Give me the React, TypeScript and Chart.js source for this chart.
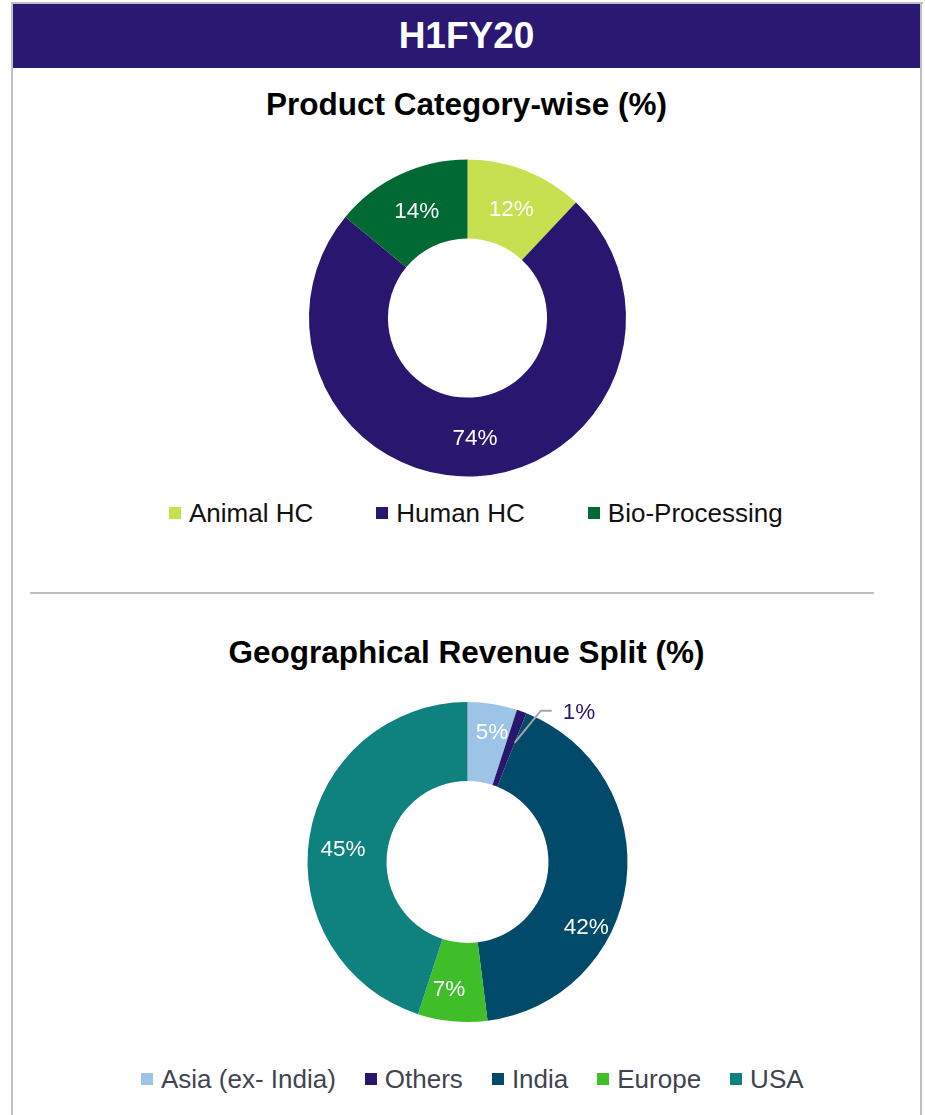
import React, { useEffect, useRef } from "react";
import { Chart, registerables } from "chart.js";

Chart.register(...registerables);

// ---------- data ----------
const productCategories = ["Animal HC", "Human HC", "Bio-Processing"];
const productValues = [12, 74, 14];

const geoCategories = ["Asia (ex- India)", "Others", "India", "Europe", "USA"];
const geoValues = [5, 1, 42, 7, 45];

// ---------- styles ----------
const productColors = ["#c6e04f", "#29176f", "#006934"];
const geoColors = ["#9dc3e6", "#29176f", "#014a69", "#3fbe2a", "#0f817f"];

const FONT = '"Liberation Sans", Arial, Helvetica, sans-serif';

// label placement (fraction of ring thickness, angle shift in degrees, outside flag)
const productLabelFrac = [0.5, 0.5, 0.5];
const productLabelShift = [0, 0, 0];
const productLabelOutside = [false, false, false];

const geoLabelFrac = [0.67, 0.5, 0.68, 0.58, 0.56];
const geoLabelShift = [1.5, 0, 21, 3, -2.5];
const geoLabelOutside = [false, true, false, false, false];

const sliceLabelPlugin = {
  id: "sliceLabels",
  afterDatasetsDraw(chart: any, _args: any, opts: any) {
    const ctx = chart.ctx;
    const meta = chart.getDatasetMeta(0);
    const values = chart.data.datasets[0].data as number[];
    ctx.save();
    ctx.font = `22.5px ${FONT}`;
    ctx.textBaseline = "middle";
    const dy = 2;
    meta.data.forEach((arc: any, i: number) => {
      const p = arc.getProps(
        ["x", "y", "startAngle", "endAngle", "innerRadius", "outerRadius"],
        true
      );
      const text = `${values[i]}%`;
      const shift = ((opts.shift?.[i] || 0) * Math.PI) / 180;
      const mid = (p.startAngle + p.endAngle) / 2 + shift;
      const frac = opts.frac?.[i] ?? 0.5;
      const r = p.innerRadius + (p.outerRadius - p.innerRadius) * frac;
      if (opts.outside?.[i]) {
        const ang = p.endAngle;
        const rs = p.innerRadius + (p.outerRadius - p.innerRadius) * 0.6;
        const sx = p.x + Math.cos(ang) * rs;
        const sy = p.y + Math.sin(ang) * rs;
        const ex = sx + 26;
        const ey = sy - 32;
        ctx.strokeStyle = "#a6a6a6";
        ctx.lineWidth = 2;
        ctx.beginPath();
        ctx.moveTo(sx, sy);
        ctx.lineTo(ex, ey);
        ctx.lineTo(ex + 11, ey);
        ctx.stroke();
        ctx.fillStyle = opts.outsideColor || "#29176f";
        ctx.textAlign = "left";
        ctx.fillText(text, ex + 22, ey + dy);
      } else {
        const lx = p.x + Math.cos(mid) * r;
        const ly = p.y + Math.sin(mid) * r;
        ctx.fillStyle = "#ffffff";
        ctx.textAlign = "center";
        ctx.fillText(text, lx, ly + dy);
      }
    });
    ctx.restore();
  },
};

function Donut(props: {
  labels: string[];
  values: number[];
  colors: string[];
  radius: number;
  cutout: string;
  frac: number[];
  shift: number[];
  outside: boolean[];
  width: number;
  height: number;
  padLeft: number;
  style: React.CSSProperties;
}) {
  const ref = useRef<HTMLCanvasElement | null>(null);
  useEffect(() => {
    if (!ref.current) return;
    const chart = new Chart(ref.current, {
      type: "doughnut",
      data: {
        labels: props.labels,
        datasets: [
          {
            data: props.values,
            backgroundColor: props.colors,
            borderWidth: 0,
          },
        ],
      },
      options: {
        responsive: false,
        animation: false,
        radius: props.radius,
        cutout: props.cutout,
        layout: { padding: { left: props.padLeft, right: 0, top: 0, bottom: 0 } },
        plugins: {
          legend: { display: false },
          tooltip: { enabled: false },
          title: { display: false },
          // @ts-ignore
          sliceLabels: { frac: props.frac, shift: props.shift, outside: props.outside },
        },
      } as any,
      plugins: [sliceLabelPlugin as any],
    });
    return () => chart.destroy();
  }, []);
  return <canvas ref={ref} width={props.width} height={props.height} style={props.style} />;
}

function Legend(props: {
  labels: string[];
  colors: string[];
  left: number;
  top: number;
  gap: number;
  color: string;
}) {
  return (
    <div
      style={{
        position: "absolute",
        left: props.left,
        top: props.top,
        display: "flex",
        alignItems: "center",
        gap: props.gap,
        whiteSpace: "nowrap",
        fontFamily: FONT,
        fontSize: 26,
        lineHeight: "30px",
        color: props.color,
      }}
    >
      {props.labels.map((l, i) => (
        <div key={l} style={{ display: "flex", alignItems: "center" }}>
          <span
            style={{
              display: "inline-block",
              width: 12,
              height: 12,
              background: props.colors[i],
              marginRight: 8,
            }}
          />
          <span>{l}</span>
        </div>
      ))}
    </div>
  );
}

export default function App() {
  return (
    <div
      style={{
        position: "absolute",
        left: 0,
        top: 0,
        width: 925,
        height: 1115,
        background: "#ffffff",
        overflow: "hidden",
        fontFamily: FONT,
      }}
    >
      {/* frame */}
      <div style={{ position: "absolute", left: 11, top: 2, width: 912, height: 2, background: "#c0c0c0" }} />
      <div style={{ position: "absolute", left: 11, top: 2, width: 2, height: 1113, background: "#c0c0c0" }} />
      <div style={{ position: "absolute", left: 920, top: 2, width: 2, height: 1113, background: "#c0c0c0" }} />
      {/* header */}
      <div
        style={{
          position: "absolute",
          left: 13,
          top: 4,
          width: 907,
          height: 64,
          background: "#2b1872",
          color: "#ffffff",
          fontWeight: "bold",
          fontSize: 37,
          lineHeight: "63px",
          textAlign: "center",
        }}
      >
        H1FY20
      </div>
      {/* title 1 */}
      <div
        style={{
          position: "absolute",
          left: 13,
          width: 907,
          top: 86,
          lineHeight: "36px",
          fontSize: 31.5,
          fontWeight: "bold",
          textAlign: "center",
          color: "#000000",
        }}
      >
        Product Category-wise (%)
      </div>
      <Donut
        labels={productCategories}
        values={productValues}
        colors={productColors}
        radius={158.5}
        cutout="50.2%"
        frac={productLabelFrac}
        shift={productLabelShift}
        outside={productLabelOutside}
        width={925}
        height={340}
        padLeft={10}
        style={{ position: "absolute", left: 0, top: 148 }}
      />
      <Legend
        labels={productCategories}
        colors={productColors}
        left={169}
        top={498}
        gap={63}
        color="#111111"
      />
      {/* separator */}
      <div style={{ position: "absolute", left: 30, top: 592, width: 844, height: 2, background: "#bfbfbf" }} />
      {/* title 2 */}
      <div
        style={{
          position: "absolute",
          left: 13,
          width: 907,
          top: 634,
          lineHeight: "36px",
          fontSize: 31.5,
          fontWeight: "bold",
          textAlign: "center",
          color: "#000000",
        }}
      >
        Geographical Revenue Split (%)
      </div>
      <Donut
        labels={geoCategories}
        values={geoValues}
        colors={geoColors}
        radius={160}
        cutout="50.6%"
        frac={geoLabelFrac}
        shift={geoLabelShift}
        outside={geoLabelOutside}
        width={925}
        height={340}
        padLeft={10}
        style={{ position: "absolute", left: 0, top: 692 }}
      />
      <Legend
        labels={geoCategories}
        colors={geoColors}
        left={141}
        top={1064}
        gap={29}
        color="#3f4450"
      />
    </div>
  );
}
